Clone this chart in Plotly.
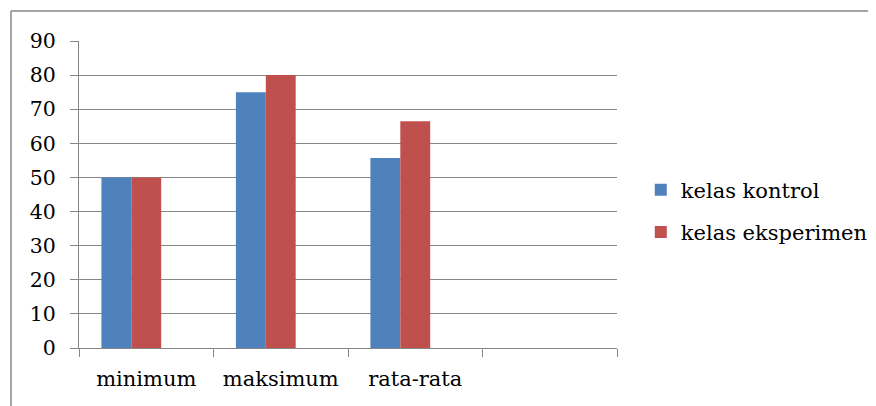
import plotly.graph_objects as go

categories = ["minimum", "maksimum", "rata-rata", " "]
kelas_kontrol = [50, 75, 55.7, None]
kelas_eksperimen = [50, 80, 66.5, None]
series_names = ["kelas kontrol", "kelas eksperimen"]
y_ticks = [0, 10, 20, 30, 40, 50, 60, 70, 80, 90]

BLUE = "#4F81BD"
RED = "#C0504D"
GRID = "#878787"
FONT = "DejaVu Serif"

# Excel-style layout: 3 series slots per category (third empty), gap width 150%
bar_w = 1 / 4.5

fig = go.Figure()
fig.add_trace(go.Bar(x=categories, y=kelas_kontrol, name=series_names[0],
                     marker=dict(color=BLUE, line=dict(width=0)),
                     width=bar_w, offset=-1.5 * bar_w, legendgroup="a"))
fig.add_trace(go.Bar(x=categories, y=kelas_eksperimen, name=series_names[1],
                     marker=dict(color=RED, line=dict(width=0)),
                     width=bar_w, offset=-0.5 * bar_w, legendgroup="b"))

fig.update_layout(
    width=868, height=398,
    margin=dict(l=71, r=259, t=33, b=58, autoexpand=False),
    paper_bgcolor="white", plot_bgcolor="white",
    barmode="overlay",
    font=dict(family=FONT, size=21, color="black"),
    showlegend=True,
    legend=dict(xref="container", yref="container", x=0.729, y=0.49,
                xanchor="left", yanchor="middle",
                font=dict(family=FONT, size=21, color="black"),
                tracegroupgap=12, bgcolor="rgba(0,0,0,0)"),
    xaxis=dict(type="category", categoryorder="array", categoryarray=categories,
               range=[-0.5, 3.5], tickson="boundaries", showgrid=False,
               ticks="outside", ticklen=8, tickcolor=GRID, tickwidth=1,
               showline=True, linecolor=GRID, linewidth=1, tickangle=0,
               automargin=False,
               ticklabelstandoff=12, tickfont=dict(family=FONT, size=21)),
    yaxis=dict(range=[0, 90], tickvals=y_ticks, showgrid=True, gridcolor=GRID,
               gridwidth=1, ticks="outside", ticklen=8, tickcolor=GRID,
               showline=True, linecolor=GRID, linewidth=1, zeroline=False,
               automargin=False,
               ticklabelstandoff=10, tickfont=dict(family=FONT, size=20.5)),
    shapes=[
        dict(type="line", xref="paper", yref="paper", x0=-0.1264, x1=1.6,
             y0=1.0977, y1=1.0977, line=dict(color=GRID, width=1.5)),
        dict(type="line", xref="paper", yref="paper", x0=-0.1264, x1=-0.1264,
             y0=1.0977, y1=-0.3, line=dict(color=GRID, width=1.5)),
    ],
)

fig.write_html("out.html")
